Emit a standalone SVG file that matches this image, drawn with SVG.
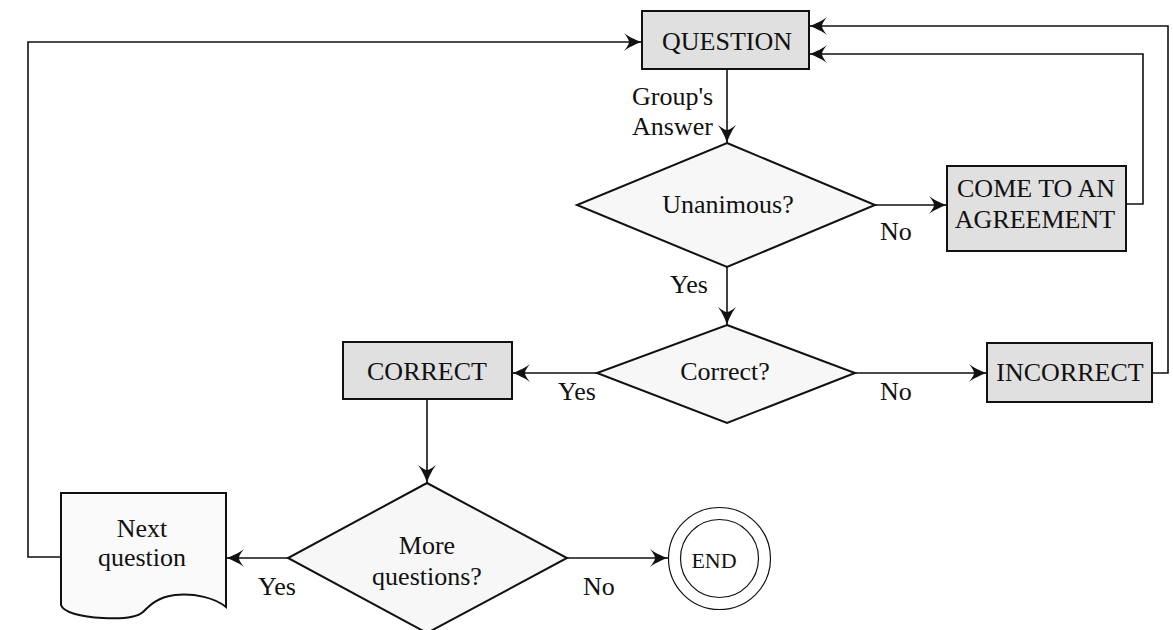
<svg xmlns="http://www.w3.org/2000/svg" width="1173" height="630" viewBox="0 0 1173 630">
<style>
text{font-family:"Liberation Serif","Times New Roman",serif;font-size:26px;fill:#111;text-anchor:middle}
.box{fill:#e0e0e0;stroke:#111;stroke-width:2}
.dia{fill:#f7f7f7;stroke:#111;stroke-width:2}
.ln{fill:none;stroke:#111;stroke-width:1.6}
.lab{text-anchor:start}
</style>
<defs>
<marker id="ah" markerWidth="22" markerHeight="18" refX="20" refY="9" orient="auto" markerUnits="userSpaceOnUse">
<path d="M20,9 C13,7 6,3 2,0 C6,5 7,7.5 7,9 C7,10.5 6,13 2,18 C6,15 13,11 20,9 Z" fill="#111"/>
</marker>
</defs>
<rect width="1173" height="630" fill="#fff"/>
<g id="connectors">
<path class="ln" d="M727,69 V143" marker-end="url(#ah)"/>
<path class="ln" d="M875,205 H947" marker-end="url(#ah)"/>
<path class="ln" d="M1126,204 H1143 V54 H809" marker-end="url(#ah)"/>
<path class="ln" d="M727,267 V325" marker-end="url(#ah)"/>
<path class="ln" d="M597,373 H512" marker-end="url(#ah)"/>
<path class="ln" d="M855,373 H987" marker-end="url(#ah)"/>
<path class="ln" d="M1152,373 H1168 V26 H809" marker-end="url(#ah)"/>
<path class="ln" d="M427,399 V483" marker-end="url(#ah)"/>
<path class="ln" d="M288,558 H226" marker-end="url(#ah)"/>
<path class="ln" d="M567,558 H668" marker-end="url(#ah)"/>
<path class="ln" d="M61,557 H28 V42 H642" marker-end="url(#ah)"/>
<text class="lab" x="632" y="105">Group's</text>
<text class="lab" x="632" y="135">Answer</text>
<text class="lab" x="880" y="240">No</text>
<text class="lab" x="670" y="293">Yes</text>
<text class="lab" x="558" y="400">Yes</text>
<text class="lab" x="880" y="400">No</text>
<text class="lab" x="258" y="595">Yes</text>
<text class="lab" x="583" y="595">No</text>
</g>
<g id="question">
<rect class="box" x="642" y="11" width="167" height="58"/>
<text x="727" y="50">QUESTION</text>
</g>
<g id="unanimous">
<polygon class="dia" points="727,143 875,205 727,267 577,205"/>
<text x="728" y="213">Unanimous?</text>
</g>
<g id="agreement">
<rect class="box" x="947" y="166" width="179" height="85"/>
<text x="1036" y="197">COME TO AN</text>
<text x="1035" y="228">AGREEMENT</text>
</g>
<g id="correct-q">
<polygon class="dia" points="727,325 855,373 727,423 597,373"/>
<text x="725" y="380">Correct?</text>
</g>
<g id="correct">
<rect class="box" x="343" y="342" width="169" height="57"/>
<text x="427" y="380">CORRECT</text>
</g>
<g id="incorrect">
<rect class="box" x="987" y="343" width="165" height="59"/>
<text x="1070" y="381">INCORRECT</text>
</g>
<g id="more">
<polygon class="dia" points="427,483 567,558 427,633 288,558"/>
<text x="427" y="554">More</text>
<text x="427" y="585">questions?</text>
</g>
<g id="next">
<path d="M61,493 H226 V607 C215,598 195,593 175,595 C158,597 150,605 143,612 C136,618 120,619 103,618 C80,617 63,612 61,605 Z" fill="#fafafa" stroke="#111" stroke-width="2"/>
<text x="142" y="537">Next</text>
<text x="142" y="566">question</text>
</g>
<g id="end">
<circle cx="719.5" cy="558.5" r="51" fill="#fff" stroke="#111" stroke-width="1.2"/>
<circle cx="719.5" cy="558.5" r="39" fill="#fff" stroke="#111" stroke-width="1.2"/>
<text x="714" y="568" style="font-size:22px">END</text>
</g>
</svg>
